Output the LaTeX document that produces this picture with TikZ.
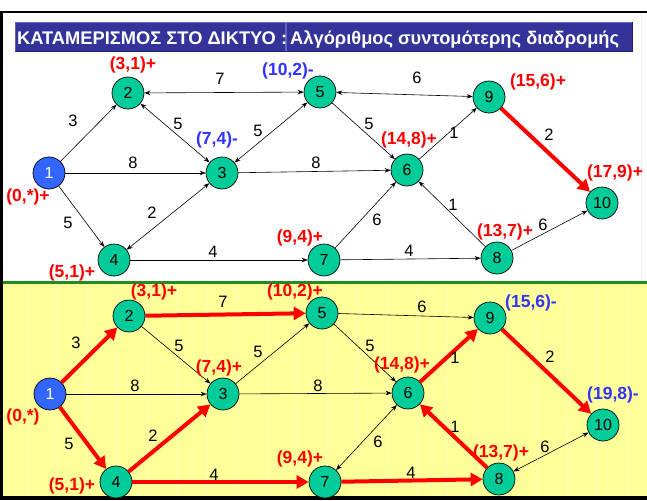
\documentclass[tikz,border=0pt]{standalone}
\usepackage{fontspec}
\setmainfont{Liberation Sans}
\usetikzlibrary{arrows.meta}
\definecolor{vfill}{RGB}{0,204,153}
\definecolor{vblue}{RGB}{51,102,255}
\definecolor{lblue}{RGB}{51,51,255}
\definecolor{hdr}{RGB}{51,51,153}
\definecolor{hdrlight}{RGB}{100,100,190}
\definecolor{hdrdark}{RGB}{30,30,110}
\definecolor{yel}{RGB}{255,255,153}
\definecolor{sepgreen}{RGB}{34,139,34}
\tikzset{
  vert/.style={circle, draw=black, line width=0.7pt, fill=vfill, minimum size=32pt, inner sep=0pt, font=\fontsize{16}{16}\selectfont},
  src/.style={vert, fill=vblue, text=white},
  thinarr/.style={line width=0.6pt, -{Stealth[length=6pt,width=4.5pt]}},
  botharr/.style={line width=0.6pt, {Stealth[length=6pt,width=4.5pt]}-{Stealth[length=6pt,width=4.5pt]}},
  redarr/.style={line width=4pt, red, -{Triangle[length=12pt,width=13pt]}},
  wt/.style={font=\fontsize{16.5}{16.5}\selectfont, inner sep=0pt},
  lr/.style={font=\bfseries\fontsize{17.5}{17.5}\selectfont, text=red, inner sep=0pt},
  lb/.style={lr, text=lblue},
  hdrtext/.style={font=\bfseries\fontsize{18.3}{18.3}\selectfont, text=white, inner sep=0pt, anchor=base west}
}
\begin{document}
\begin{tikzpicture}[x=1pt,y=-1pt]
\useasboundingbox (0,0) rectangle (647,500);
\fill[white] (0,0) rectangle (647,500);
% yellow lower panel
\fill[yel] (2.5,283.5) rectangle (647,496);
\foreach \gx in {27,57,...,627}
  \draw[white, opacity=0.6, line width=0.6pt, dash pattern=on 2pt off 2pt] (\gx,284) -- (\gx,495);
\draw[sepgreen, line width=3pt] (2.5,282) -- (647,282);
% frame
\draw[line width=2pt] (0,12) -- (647,12);
\draw[line width=2.5pt] (1.25,11) -- (1.25,500);
\draw[line width=4pt] (0,498) -- (647,498);
\draw[black!8, line width=1pt] (641,13) -- (641,281);
% header
\fill[hdr] (15,22) rectangle (633,52);
\draw[hdrlight, line width=1pt] (15.5,51.5) -- (15.5,22.5) -- (632.5,22.5);
\draw[hdrdark, line width=1pt] (15.5,51.5) -- (632.5,51.5) -- (632.5,22.5);
\draw[hdrlight, line width=1.2pt] (286,22.5) -- (286,51.5);
\node[hdrtext] (h1) at (17,45) {ΚΑΤΑΜΕΡΙΣΜΟΣ ΣΤΟ ΔΙΚΤΥΟ :};
\node[hdrtext] (h2) at (290,45) {Αλγόριθμος συντομότερης διαδρομής};

% ---------- top graph ----------
\node[src]  (t1)  at (49,173) {1};
\node[vert] (t2)  at (128,93) {2};
\node[vert] (t3)  at (222,173) {3};
\node[vert] (t4)  at (114,260) {4};
\node[vert] (t5)  at (320,92) {5};
\node[vert] (t6)  at (407,170) {6};
\node[vert] (t7)  at (324,260) {7};
\node[vert] (t8)  at (497,258) {8};
\node[vert] (t9)  at (489,97) {9};
\node[vert] (t10) at (602,203) {10};

\draw[thinarr] (t1) -- (t2);
\draw[thinarr] (t1) -- (t3);
\draw[thinarr] (t1) -- (t4);
\draw[botharr] (t2) -- (t5);
\draw[botharr] (t2) -- (t3);
\draw[botharr] (t3) -- (t5);
\draw[botharr] (t4) -- (t3);
\draw[thinarr] (t3) -- (t6);
\draw[thinarr] (t4) -- (t7);
\draw[botharr] (t5) -- (t9);
\draw[thinarr] (t5) -- (t6);
\draw[thinarr] (t6) -- (t9);
\draw[thinarr] (t7) -- (t6);
\draw[thinarr] (t7) -- (t8);
\draw[thinarr] (t8) -- (t6);
\draw[thinarr] (t8) -- (t10);
\draw[redarr] (t9) -- (t10);

\node[wt] (tw12) at (73,121) {3};
\node[wt] (tw13) at (133,163) {8};
\node[wt] (tw14) at (68,223) {5};
\node[wt] (tw25) at (220,79) {7};
\node[wt] (tw23) at (178,124) {5};
\node[wt] (tw35) at (258,131) {5};
\node[wt] (tw36) at (316,163) {8};
\node[wt] (tw43) at (152,213) {2};
\node[wt] (tw47) at (213,252) {4};
\node[wt] (tw59) at (417,78) {6};
\node[wt] (tw56) at (369,124) {5};
\node[wt] (tw69) at (454,133) {1};
\node[wt] (tw76) at (377,220) {6};
\node[wt] (tw78) at (409,251) {4};
\node[wt] (tw86) at (453,205) {1};
\node[wt] (tw810) at (543,225) {6};
\node[wt] (tw910) at (549,135) {2};

\node[lr] (tl1) at (28,197) {(0,*)+};
\node[lr] (tl2) at (133,65) {(3,1)+};
\node[lb] (tl5) at (288,71) {(10,2)-};
\node[lb] (tl3) at (217,140) {(7,4)-};
\node[lr] (tl7) at (300,238) {(9,4)+};
\node[lr] (tl4) at (72,273) {(5,1)+};
\node[lr] (tl6) at (409,140) {(14,8)+};
\node[lr] (tl9) at (538,82) {(15,6)+};
\node[lr] (tl10) at (615,173) {(17,9)+};
\node[lr] (tl8) at (505,232) {(13,7)+};

% ---------- bottom graph ----------
\node[src]  (b1)  at (50,394) {1};
\node[vert] (b2)  at (129,316) {2};
\node[vert] (b3)  at (223,394) {3};
\node[vert] (b4)  at (116,482) {4};
\node[vert] (b5)  at (322,313) {5};
\node[vert] (b6)  at (408,393) {6};
\node[vert] (b7)  at (325,482) {7};
\node[vert] (b8)  at (499,479) {8};
\node[vert] (b9)  at (490,318) {9};
\node[vert] (b10) at (603,425) {10};

\draw[thinarr] (b1) -- (b3);
\draw[thinarr] (b2) -- (b3);
\draw[thinarr] (b3) -- (b5);
\draw[thinarr] (b3) -- (b6);
\draw[thinarr] (b5) -- (b9);
\draw[thinarr] (b5) -- (b6);
\draw[botharr] (b6) -- (b7);
\draw[botharr] (b8) -- (b10);
\draw[redarr] (b1) -- (b2);
\draw[redarr] (b1) -- (b4);
\draw[redarr] (b2) -- (b5);
\draw[redarr] (b4) -- (b3);
\draw[redarr] (b4) -- (b7);
\draw[redarr] (b6) -- (b9);
\draw[redarr] (b7) -- (b8);
\draw[redarr] (b8) -- (b6);
\draw[redarr] (b9) -- (b10);

\node[wt] (bw12) at (76,343) {3};
\node[wt] (bw13) at (135,386) {8};
\node[wt] (bw14) at (69,444) {5};
\node[wt] (bw25) at (223,302) {7};
\node[wt] (bw23) at (179,346) {5};
\node[wt] (bw35) at (258,352) {5};
\node[wt] (bw36) at (318,386) {8};
\node[wt] (bw43) at (153,436) {2};
\node[wt] (bw47) at (214,475) {4};
\node[wt] (bw59) at (422,307) {6};
\node[wt] (bw56) at (370,346) {5};
\node[wt] (bw69) at (455,358) {1};
\node[wt] (bw76) at (378,442) {6};
\node[wt] (bw78) at (411,473) {4};
\node[wt] (bw86) at (455,427) {1};
\node[wt] (bw810) at (545,447) {6};
\node[wt] (bw910) at (550,357) {2};

\node[lr] (bl1) at (23,417) {(0,*)};
\node[lr] (bl2) at (154,292) {(3,1)+};
\node[lr] (bl5) at (295,292) {(10,2)+};
\node[lr] (bl3) at (219,368) {(7,4)+};
\node[lr] (bl7) at (300,459) {(9,4)+};
\node[lr] (bl4) at (72,486) {(5,1)+};
\node[lb] (bl9) at (531,303) {(15,6)-};
\node[lr] (bl6) at (402,365) {(14,8)+};
\node[lb] (bl10) at (613,395) {(19,8)-};
\node[lr] (bl8) at (501,453) {(13,7)+};
\end{tikzpicture}
\end{document}
